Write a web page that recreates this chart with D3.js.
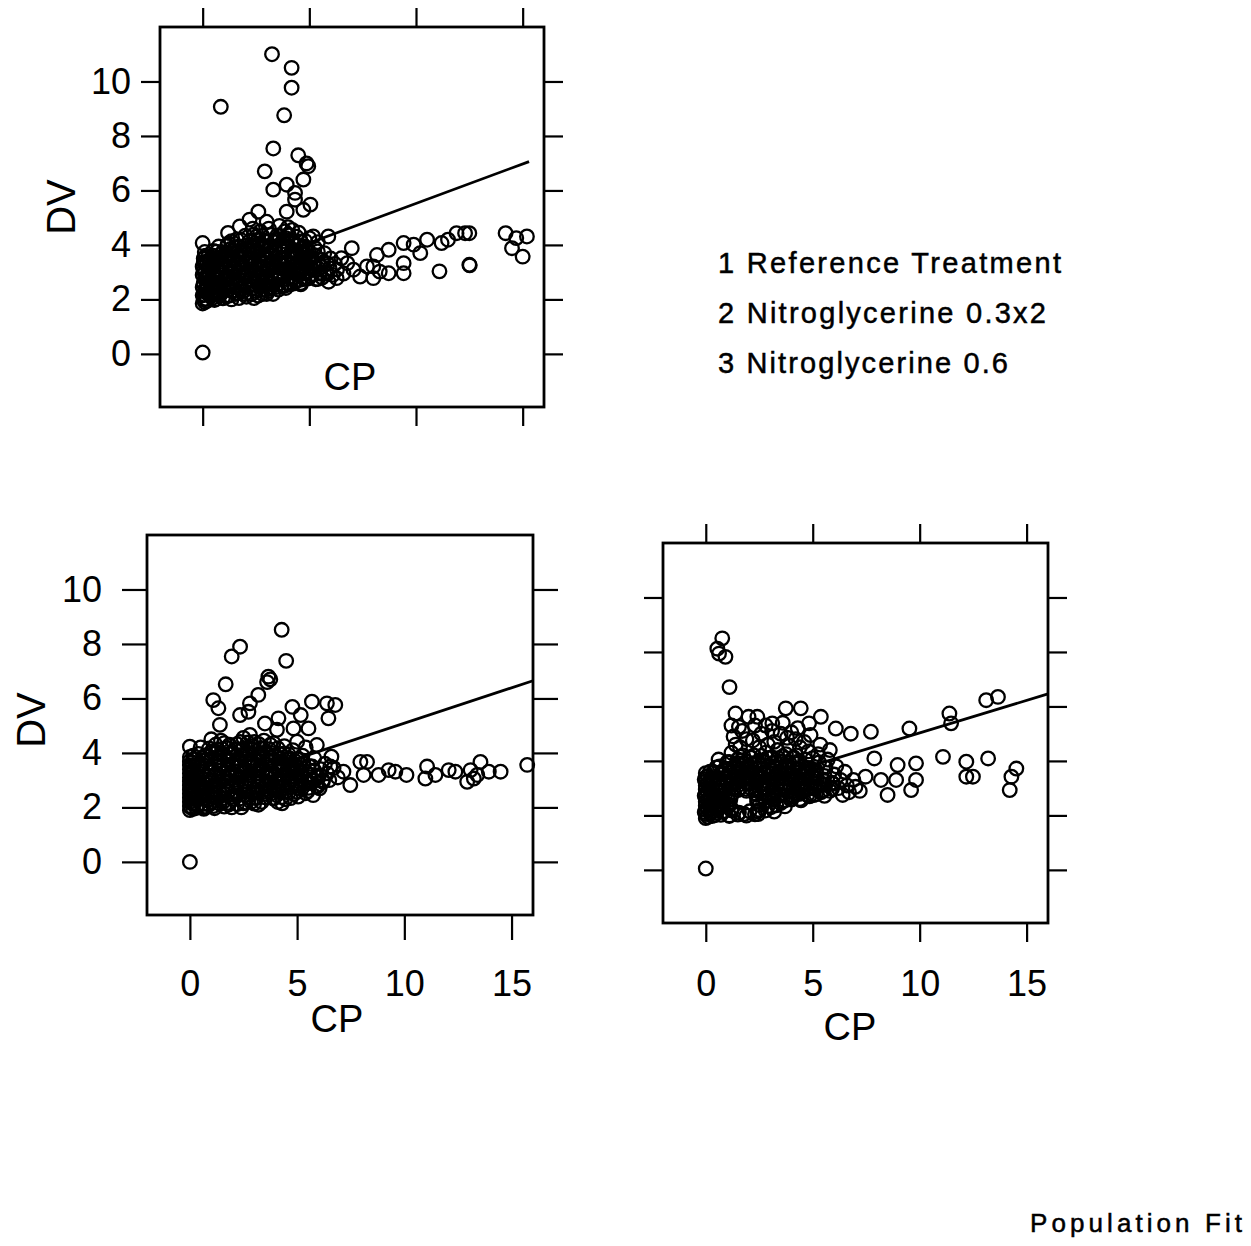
<!DOCTYPE html>
<html>
<head>
<meta charset="utf-8">
<script src="https://cdn.jsdelivr.net/npm/d3@7"></script>
<style>
  html, body { margin: 0; padding: 0; background: #fff; }
  svg { display: block; font-family: "Liberation Sans", Arial, Helvetica, sans-serif; }
</style>
</head>
<body>
<svg id="chart" width="1251" height="1246"></svg>
<script>
const xTicks = [0, 5, 10, 15];
const yTicks = [0, 2, 4, 6, 8, 10];
const xDomain = [-2, 16];
const yDomain = [-1.95, 12];
const treatments = ["1 Reference Treatment", "2 Nitroglycerine 0.3x2", "3 Nitroglycerine 0.6"];
const footer = "Population Fit";

// panel 1: reference treatment, [CP, DV]
const refPoints = [
  [0,1.85],[0.05,2.0],[0,2.15],[0.1,2.3],[0,2.45],[0.05,2.6],[0.1,2.75],[0,2.9],[0.05,3.05],[0,3.2],[0.1,3.35],[0.05,3.5],
  [0.2,1.95],[0.25,2.2],[0.2,2.5],[0.3,2.65],[0.2,2.85],[0.25,3.0],[0.3,3.15],[0.2,3.3],[0.15,2.4],[0.15,3.6],
  [0.45,2.05],[0.5,2.3],[0.6,2.5],[0.4,2.7],[0.55,2.9],[0.7,3.1],[0.45,3.25],[0.65,3.4],[0.8,2.15],[0.9,2.6],[0.85,2.8],
  [0.75,3.0],[0.95,3.3],[0.8,3.55],[1.0,2.4],[0.6,2.0],[0.9,3.7],
  [1.1,2.1],[1.2,2.35],[1.3,2.6],[1.15,2.85],[1.4,3.0],[1.25,3.2],[1.45,3.45],[1.35,3.7],[1.55,2.2],[1.6,2.5],[1.7,2.75],
  [1.65,3.0],[1.8,3.3],[1.75,3.55],[1.9,3.8],[1.85,2.4],[1.95,2.95],[1.5,3.9],[1.2,4.05],[1.6,4.2],[2.0,2.2],
  [2.1,2.45],[2.2,2.7],[2.05,3.0],[2.3,3.25],[2.15,3.5],[2.4,3.75],[2.25,4.0],[2.5,2.3],[2.55,2.6],[2.6,2.9],[2.7,3.15],
  [2.65,3.4],[2.8,3.65],[2.75,3.9],[2.9,4.15],[2.85,2.5],[2.95,2.8],[2.5,4.3],[2.35,4.6],[2.7,4.5],[3.0,3.05],
  [3.05,2.3],[3.1,2.6],[3.2,2.85],[3.15,3.1],[3.3,3.35],[3.25,3.6],[3.4,3.85],[3.35,4.1],[3.5,4.35],[3.45,2.45],[3.55,2.75],
  [3.6,3.0],[3.7,3.25],[3.65,3.5],[3.8,3.75],[3.75,4.0],[3.9,4.25],[3.85,4.5],[3.95,2.6],[3.1,4.6],[3.6,4.7],[3.3,2.2],[3.0,4.85],
  [4.05,2.8],[4.1,3.05],[4.2,3.3],[4.15,3.55],[4.3,3.8],[4.25,4.05],[4.4,4.3],[4.35,2.65],[4.5,2.9],[4.55,3.15],[4.6,3.4],
  [4.65,3.65],[4.7,3.9],[4.8,4.15],[4.75,2.75],[4.9,3.0],[4.85,3.3],[4.95,3.55],[4.2,4.55],[4.5,4.45],[4.0,4.65],[4.9,3.85],
  [5.05,2.85],[5.1,3.1],[5.2,3.35],[5.3,3.6],[5.25,3.9],[5.4,4.1],[5.5,2.95],[5.55,3.2],[5.6,3.45],[5.7,3.7],[5.8,3.0],
  [5.85,3.3],[6.0,3.5],[5.95,3.15],[6.1,2.9],[5.4,2.75],[5.0,4.25],[6.2,3.3],[5.6,2.8],[6.3,3.1],[6.6,2.95],[5.9,2.65],
  [0.1,1.9],[0.35,2.35],[0.7,2.25],[1.05,2.7],[1.4,2.3],[1.7,2.05],[2.0,2.6],[2.4,2.05],[2.8,2.2],[3.2,2.45],[3.7,2.5],
  [4.1,2.55],[4.6,2.6],[1.1,3.5],[1.5,3.2],[2.0,3.4],[2.45,3.3],[2.9,3.5],[3.35,3.2],[3.8,3.1],[4.3,3.2],[4.7,3.3],[5.1,3.5],
  [0.5,3.6],[1.3,3.85],[2.1,3.85],[2.6,4.05],[3.15,3.95],[3.6,4.2],[4.05,4.35],[0.3,3.45],[0.65,3.75],
  [0.15,2.02],[0.55,1.98],[0.95,2.04],[1.35,2.0],
  [0.05,2.18],[0.4,2.12],[0.85,2.2],[1.25,2.14],[1.65,2.22],[2.05,2.1],[2.3,2.2],[2.6,2.14],[3.0,2.2],
  [0.2,2.36],[0.6,2.32],[1.0,2.38],[1.45,2.34],[1.9,2.3],[2.3,2.38],[2.75,2.34],[3.15,2.4],[3.55,2.36],[3.9,2.42],
  [0.05,2.56],[0.45,2.52],[0.8,2.58],[1.2,2.54],[1.55,2.6],[1.95,2.52],[2.35,2.57],[2.7,2.53],[3.1,2.58],[3.5,2.55],
  [3.85,2.5],[4.25,2.58],[4.6,2.55],
  [0.25,2.76],[0.65,2.72],[1.05,2.78],[1.45,2.74],[1.85,2.79],[2.25,2.73],[2.6,2.77],[3.0,2.72],[3.4,2.78],[3.8,2.74],
  [4.2,2.78],[4.55,2.72],[4.95,2.77],[5.3,2.74],
  [0.1,2.96],[0.5,2.92],[0.9,2.98],[1.3,2.93],[1.7,2.97],[2.1,2.92],[2.45,2.98],[2.85,2.94],[3.25,2.97],[3.65,2.92],
  [4.05,2.98],[4.4,2.94],[4.75,2.97],[5.15,2.93],[5.5,2.98],[5.85,2.94],
  [0.3,3.16],[0.7,3.12],[1.1,3.18],[1.5,3.13],[1.9,3.17],[2.3,3.12],[2.7,3.18],[3.1,3.14],[3.5,3.17],[3.9,3.12],
  [4.3,3.18],[4.7,3.14],[5.05,3.17],[5.45,3.12],
  [0.05,3.36],[0.45,3.32],[0.85,3.38],[1.25,3.33],[1.65,3.37],[2.05,3.32],[2.45,3.38],[2.85,3.34],[3.2,3.37],[3.6,3.32],
  [4.0,3.38],[4.4,3.34],[4.8,3.37],[5.25,3.32],[5.65,3.36],
  [0.25,3.56],[0.65,3.52],[1.05,3.58],[1.45,3.53],[1.85,3.57],[2.25,3.52],[2.65,3.58],[3.05,3.54],[3.45,3.57],[3.85,3.52],
  [4.25,3.58],[4.65,3.54],[5.0,3.57],
  [0.1,3.74],[0.5,3.78],[0.95,3.73],[1.4,3.77],[1.8,3.72],[2.2,3.78],[2.6,3.74],[3.0,3.77],[3.4,3.72],[3.8,3.78],
  [4.2,3.74],[4.55,3.77],[5.0,3.73],[5.4,3.76],
  [0.75,3.94],[1.15,3.98],[1.6,3.93],[2.0,3.97],[2.4,3.92],[2.8,3.98],[3.2,3.94],[3.6,3.97],[4.0,3.92],[4.4,3.98],[4.8,3.94],
  [1.35,4.14],[1.8,4.18],[2.2,4.13],[2.6,4.17],[3.0,4.12],[3.4,4.18],[3.8,4.14],[4.2,4.17],[4.6,4.13],
  [2.0,4.34],[2.4,4.38],[2.8,4.33],[3.2,4.37],[3.6,4.32],[4.0,4.38],
  [3.25,11.0],[4.17,10.5],[4.17,9.77],[0.85,9.07],[3.82,8.76],[3.31,7.54],[4.48,7.29],[4.87,6.99],[4.95,6.89],[2.91,6.7],
  [4.72,6.4],[3.31,6.03],[3.94,6.21],[4.33,5.91],[4.33,5.66],[5.05,5.48],[4.72,5.29],[3.94,5.22],[2.61,5.22],[2.2,4.93],
  [1.74,4.68],[1.19,4.44],[0,4.07],[0,0.05],
  [5.89,4.31],[5.18,4.31],[6.99,3.88],[6.5,3.51],[8.17,3.63],[8.72,3.82],[9.42,4.07],[9.89,4.01],[10.52,4.19],[10.2,3.7],
  [11.2,4.07],[11.5,4.19],[11.9,4.43],[12.3,4.43],[12.5,4.43],[14.2,4.43],[15.2,4.31],[14.7,4.25],[14.5,3.88],[15.0,3.57],
  [11.1,3.03],[12.5,3.27],[12.52,3.25],[9.42,3.33],[9.42,2.96],[8.72,2.96],[8.0,2.78],[7.7,3.21],[7.07,3.09],[6.28,2.78],
  [7.38,2.84],[8.3,3.02],[8.0,3.21],[6.78,3.33]
];

// panel 2: nitroglycerine 0.3x2
const ntg03Points = [
  [0,1.9],[0,2.05],[0,2.2],[0,2.35],[0,2.5],[0,2.65],[0,2.8],[0,2.95],[0,3.1],[0,3.25],[0,3.4],[0,3.55],[0,3.7],[0,3.85],
  [0.05,2.0],[0.05,2.3],[0.05,2.6],[0.05,2.9],[0.05,3.2],[0.05,3.5],[0.1,2.15],[0.1,2.45],[0.1,2.75],[0.1,3.05],[0.1,3.35],
  [0.1,3.65],[0.15,1.95],[0.15,3.9],
  [0.35,2.1],[0.4,2.4],[0.5,2.7],[0.45,3.0],[0.6,3.3],[0.55,3.6],[0.7,3.9],[0.65,1.95],[0.8,2.25],[0.85,2.55],[0.75,2.85],
  [0.9,3.15],[0.95,3.45],[0.8,3.75],[1.0,4.05],[0.5,4.2],[0.3,3.2],[0.6,2.0],
  [1.1,2.05],[1.2,2.35],[1.15,2.65],[1.3,2.95],[1.25,3.25],[1.4,3.55],[1.35,3.85],[1.5,4.15],[1.55,2.2],[1.6,2.5],[1.7,2.8],
  [1.65,3.1],[1.8,3.4],[1.75,3.7],[1.9,4.0],[1.85,4.3],[1.95,2.0],[1.45,4.45],[1.2,4.3],[1.0,4.5],
  [2.05,2.3],[2.1,2.6],[2.2,2.9],[2.15,3.2],[2.3,3.5],[2.25,3.8],[2.4,4.1],[2.35,4.4],[2.5,2.15],[2.55,2.45],[2.6,2.75],
  [2.7,3.05],[2.65,3.35],[2.8,3.65],[2.75,3.95],[2.9,4.25],[2.85,2.2],[2.95,2.55],[2.5,4.55],[3.0,4.4],
  [3.05,2.35],[3.1,2.65],[3.2,2.95],[3.15,3.25],[3.3,3.55],[3.25,3.85],[3.4,4.15],[3.35,2.2],[3.5,2.5],[3.55,2.8],[3.6,3.1],
  [3.7,3.4],[3.65,3.7],[3.8,4.0],[3.75,4.3],[3.9,2.35],[3.95,2.65],[3.45,4.45],[3.85,3.25],
  [4.05,2.45],[4.1,2.75],[4.2,3.05],[4.15,3.35],[4.3,3.65],[4.25,3.95],[4.4,4.25],[4.45,2.3],[4.5,2.6],[4.6,2.9],[4.55,3.2],
  [4.7,3.5],[4.65,3.8],[4.8,4.1],[4.85,2.5],[4.9,2.8],[4.95,3.1],[4.75,3.4],[4.9,3.7],[4.3,2.15],
  [5.05,2.4],[5.1,2.7],[5.2,3.0],[5.15,3.3],[5.3,3.6],[5.25,3.9],[5.4,4.2],[5.5,2.6],[5.55,2.9],[5.6,3.2],[5.7,3.5],[5.8,3.8],
  [5.9,2.8],[6.0,3.1],[6.1,3.4],[6.2,3.0],[6.3,3.6],[6.4,3.25],[5.75,2.45],[6.05,2.7],[6.5,3.0],[6.7,3.45],[6.9,3.1],
  [0.25,2.3],[0.7,2.6],[1.05,3.0],[1.4,2.4],[1.8,2.1],[2.2,2.45],[2.6,3.95],[3.0,3.0],[3.4,3.3],[3.8,2.9],[4.2,3.6],[4.6,3.95],
  [5.0,3.5],[1.6,3.9],[2.0,3.6],[2.45,3.3],[2.9,3.7],[3.3,4.0],[3.7,2.6],[4.1,2.2],[0.9,2.1],[1.3,3.7],[2.4,2.0],[3.2,2.1],
  [0.3,1.98],[0.75,2.02],[1.15,1.97],[1.6,2.03],
  [0.2,2.16],[0.6,2.12],[1.0,2.18],[1.4,2.13],[1.8,2.17],[2.2,2.12],[2.6,2.18],[3.0,2.14],
  [0.3,2.36],[0.7,2.32],[1.1,2.38],[1.5,2.33],[1.9,2.37],[2.3,2.32],[2.7,2.38],[3.1,2.34],[3.5,2.37],[3.9,2.32],[4.3,2.38],[4.7,2.34],
  [0.2,2.56],[0.6,2.52],[1.0,2.58],[1.4,2.53],[1.8,2.57],[2.2,2.52],[2.6,2.58],[3.0,2.54],[3.4,2.57],[3.8,2.52],[4.2,2.58],
  [4.6,2.54],[5.0,2.57],[5.4,2.52],
  [0.35,2.76],[0.75,2.72],[1.15,2.78],[1.55,2.73],[1.95,2.77],[2.35,2.72],[2.75,2.78],[3.15,2.74],[3.55,2.77],[3.95,2.72],
  [4.35,2.78],[4.75,2.74],[5.15,2.77],[5.55,2.72],[5.95,2.76],
  [0.2,2.96],[0.6,2.92],[1.0,2.98],[1.4,2.93],[1.8,2.97],[2.2,2.92],[2.6,2.98],[3.0,2.94],[3.4,2.97],[3.8,2.92],[4.2,2.98],
  [4.6,2.94],[5.0,2.97],[5.4,2.92],[5.8,2.98],[6.2,2.94],
  [0.35,3.16],[0.75,3.12],[1.15,3.18],[1.55,3.13],[1.95,3.17],[2.35,3.12],[2.75,3.18],[3.15,3.14],[3.55,3.17],[3.95,3.12],
  [4.35,3.18],[4.75,3.14],[5.15,3.17],[5.55,3.12],[5.95,3.16],
  [0.2,3.36],[0.6,3.32],[1.0,3.38],[1.4,3.33],[1.8,3.37],[2.2,3.32],[2.6,3.38],[3.0,3.34],[3.4,3.37],[3.8,3.32],[4.2,3.38],
  [4.6,3.34],[5.0,3.37],[5.4,3.32],[5.8,3.36],
  [0.35,3.56],[0.75,3.52],[1.15,3.58],[1.55,3.53],[1.95,3.57],[2.35,3.52],[2.75,3.58],[3.15,3.54],[3.55,3.57],[3.95,3.52],
  [4.35,3.58],[4.75,3.54],[5.15,3.57],[5.55,3.52],
  [0.2,3.76],[0.6,3.72],[1.0,3.78],[1.4,3.73],[1.8,3.77],[2.2,3.72],[2.6,3.78],[3.0,3.74],[3.4,3.77],[3.8,3.72],[4.2,3.78],
  [4.6,3.74],[5.0,3.77],
  [0.4,3.96],[0.8,3.92],[1.2,3.98],[1.6,3.93],[2.0,3.97],[2.4,3.92],[2.8,3.98],[3.2,3.94],[3.6,3.97],[4.0,3.92],[4.4,3.98],
  [0.9,4.16],[1.3,4.12],[1.7,4.18],[2.1,4.13],[2.5,4.17],[2.9,4.12],[3.3,4.18],[3.7,4.14],[4.1,4.17],
  [1.6,4.36],[2.2,4.32],[2.7,4.38],[3.2,4.33],[3.9,4.36],
  [4.28,8.52],[2.34,7.9],[1.95,7.54],[4.49,7.38],[3.66,6.8],[3.75,6.7],[3.6,6.6],[1.67,6.52],[3.19,6.13],[1.09,5.94],
  [1.33,5.64],[2.8,5.82],[5.69,5.88],[6.39,5.82],[6.78,5.76],[4.78,5.69],[5.17,5.39],[6.46,5.27],[2.34,5.39],[2.73,5.51],
  [4.13,5.27],[4.83,4.9],[5.53,4.9],[1.4,5.03],[3.5,5.08],[2.8,4.66],[4.06,4.85],[5.0,4.41],[5.92,4.29],[0,4.23],[0,0.0],
  [6.6,3.86],[6.55,3.5],[7.16,3.31],[7.48,2.82],[7.95,3.67],[8.26,3.67],[8.1,3.19],[8.8,3.19],[9.27,3.37],[9.58,3.31],
  [10.1,3.19],[11.06,3.5],[10.98,3.06],[11.45,3.19],[12.07,3.37],[12.38,3.31],[12.93,2.94],[13.09,3.37],[13.55,3.67],
  [13.4,3.19],[13.94,3.31],[14.49,3.31],[15.73,3.56],[13.24,3.06]
];

// panel 3: nitroglycerine 0.6
const ntg06Points = [
  [0,1.9],[0,2.05],[0,2.2],[0,2.35],[0,2.5],[0,2.65],[0,2.8],[0,2.95],[0,3.1],[0,3.25],[0,3.4],[0,3.55],
  [0.1,1.95],[0.1,2.25],[0.1,2.55],[0.1,2.85],[0.1,3.15],[0.1,3.45],[0.2,2.1],[0.2,2.4],[0.2,2.7],[0.2,3.0],[0.2,3.3],
  [0.2,3.6],[-0.05,2.12],[-0.05,2.72],[-0.05,3.32],
  [0.4,2.0],[0.5,2.3],[0.45,2.6],[0.6,2.9],[0.55,3.2],[0.7,3.5],[0.65,3.8],[0.8,2.15],[0.85,2.45],[0.9,2.75],[0.75,3.05],
  [0.95,3.35],[0.9,3.65],[1.0,3.95],[0.6,4.05],[0.35,3.3],
  [1.1,2.0],[1.2,2.25],[1.05,2.55],[1.3,2.85],[1.25,3.15],[1.4,3.45],[1.35,3.75],[1.5,4.05],[1.6,3.0],[1.7,3.3],[1.65,3.6],
  [1.8,3.9],[1.75,4.2],[1.9,2.9],[1.95,3.2],[1.55,2.1],[1.8,2.05],[1.2,4.3],[1.4,4.6],[1.3,4.9],[1.6,4.5],[1.9,4.8],
  [1.2,5.3],[1.7,5.1],
  [2.05,2.15],[2.1,3.0],[2.2,3.3],[2.15,3.6],[2.3,3.9],[2.25,4.2],[2.4,2.5],[2.35,2.8],[2.5,2.2],[2.55,3.1],[2.6,3.4],
  [2.7,3.7],[2.65,4.0],[2.8,4.3],[2.75,2.65],[2.9,2.95],[2.85,3.25],[2.95,3.55],[2.5,4.5],[2.2,4.75],[2.6,5.0],[2.3,5.3],
  [2.9,4.6],[2.8,5.3],[2.45,2.05],
  [3.05,2.3],[3.1,2.6],[3.2,2.9],[3.15,3.2],[3.3,3.5],[3.25,3.8],[3.4,4.1],[3.35,4.4],[3.5,2.45],[3.55,2.75],[3.6,3.05],
  [3.7,3.35],[3.65,3.65],[3.8,3.95],[3.75,4.25],[3.9,4.55],[3.95,2.6],[3.2,4.7],[3.5,5.0],[3.8,4.85],[3.1,5.1],[3.6,5.4],
  [4.05,2.7],[4.1,3.0],[4.2,3.3],[4.15,3.6],[4.3,3.9],[4.25,4.2],[4.4,4.5],[4.45,2.55],[4.5,2.85],[4.6,3.15],[4.55,3.45],
  [4.7,3.75],[4.65,4.05],[4.8,4.35],[4.85,2.7],[4.9,3.0],[4.95,3.3],[4.8,3.6],[4.2,4.8],[4.6,4.7],[4.9,4.95],[4.3,5.2],[4.0,5.05],
  [5.05,2.75],[5.1,3.05],[5.2,3.35],[5.15,3.65],[5.3,3.95],[5.25,4.25],[5.4,2.85],[5.5,3.15],[5.55,3.45],[5.6,3.75],[5.7,4.05],
  [5.8,2.9],[5.9,3.2],[6.0,3.5],[6.1,3.8],[6.2,3.0],[6.3,3.3],[6.4,2.75],[6.5,3.6],[6.6,3.1],[5.35,4.6],[5.8,4.4],[6.7,2.85],
  [6.9,3.3],[7.2,2.9],
  [0.3,2.8],[0.7,2.35],[1.0,3.2],[1.45,3.2],[1.85,3.45],[2.4,3.45],[2.8,3.0],[3.3,3.0],[3.7,2.55],[4.2,2.8],[4.6,3.6],
  [5.0,4.1],[1.0,2.4],[1.15,3.6],[1.55,3.85],[2.0,3.7],[2.45,3.95],[3.0,4.1],[3.45,3.6],[3.9,3.15],[4.4,3.7],[5.0,3.45],
  [0.3,1.98],[0.7,2.02],[1.1,1.98],[1.5,2.03],[1.9,1.99],[2.3,2.04],
  [0.4,2.16],[0.8,2.12],[1.2,2.18],[2.4,2.15],[2.8,2.18],[3.2,2.14],
  [0.3,2.36],[0.7,2.32],[1.1,2.38],[2.5,2.38],[2.9,2.34],[3.3,2.37],[3.7,2.33],
  [0.4,2.56],[0.8,2.52],[1.15,2.58],[2.4,2.62],[2.8,2.54],[3.2,2.57],[3.6,2.52],[4.0,2.58],[4.4,2.6],
  [0.35,2.76],[0.75,2.72],[1.2,2.76],[2.35,2.76],[2.75,2.78],[3.15,2.74],[3.55,2.77],[3.95,2.72],[4.35,2.78],[4.75,2.74],
  [5.15,2.77],[5.55,2.72],
  [0.3,2.96],[0.7,2.92],[1.1,2.98],[1.5,2.93],[1.9,2.97],[2.3,2.92],[2.7,2.98],[3.1,2.94],[3.5,2.97],[3.9,2.92],[4.3,2.98],
  [4.7,2.94],[5.1,2.97],[5.5,2.92],[5.9,2.98],
  [0.35,3.16],[0.75,3.12],[1.15,3.18],[1.55,3.13],[1.95,3.17],[2.35,3.12],[2.75,3.18],[3.15,3.14],[3.55,3.17],[3.95,3.12],
  [4.35,3.18],[4.75,3.14],[5.15,3.17],[5.55,3.12],[5.95,3.16],
  [0.3,3.36],[0.7,3.32],[1.1,3.38],[1.5,3.33],[1.9,3.37],[2.3,3.32],[2.7,3.38],[3.1,3.34],[3.5,3.37],[3.9,3.32],[4.3,3.38],
  [4.7,3.34],[5.1,3.37],[5.5,3.32],
  [0.35,3.56],[0.75,3.52],[1.15,3.58],[1.55,3.53],[1.95,3.57],[2.35,3.52],[2.75,3.58],[3.15,3.54],[3.55,3.57],[3.95,3.52],
  [4.35,3.58],[4.75,3.54],[5.15,3.57],
  [0.5,3.76],[0.9,3.72],[1.3,3.78],[1.7,3.73],[2.1,3.77],[2.5,3.72],[2.9,3.78],[3.3,3.74],[3.7,3.77],[4.1,3.72],[4.5,3.78],[4.9,3.74],
  [1.1,3.96],[1.5,3.92],[1.9,3.98],[2.3,3.93],[2.7,3.97],[3.1,3.92],[3.5,3.98],[3.9,3.94],[4.3,3.97],
  [1.6,4.16],[2.1,4.12],[2.6,4.18],[3.1,4.13],[3.6,4.17],[4.1,4.14],
  [0.77,8.5],[0.54,8.12],[0.92,7.82],[0.62,7.94],[1.11,6.71],[1.39,5.74],[2.0,5.62],[2.41,5.62],[3.74,5.93],[4.44,5.93],
  [5.38,5.62],[6.08,5.19],[6.78,5.0],[7.72,5.07],[9.52,5.19],[11.39,5.74],[11.47,5.38],[13.11,6.23],[13.66,6.35],[4.83,5.38],
  [1.55,5.25],[3.11,5.38],[7.88,4.09],[8.97,3.85],[9.83,3.91],[11.09,4.15],[12.18,3.97],[13.2,4.09],[14.52,3.72],[14.29,3.42],
  [14.21,2.93],[12.18,3.42],[12.49,3.42],[9.83,3.3],[9.6,2.93],[8.5,2.75],[8.19,3.3],[8.9,3.3],[7.0,3.05],[7.47,3.42],[0,0.05]
];

// population fit lines, endpoints [CP, DV]
const refFit = [[0, 2.62], [15.3, 7.06]];
const ntg03Fit = [[0, 2.49], [16, 6.65]];
const ntg06Fit = [[0, 2.64], [16, 6.46]];

const svg = d3.select("#chart");

function addAxis(g, axisFn, scale, values, size, padding, labels, transform) {
  const axis = axisFn(scale)
    .tickValues(values)
    .tickSize(size)
    .tickSizeOuter(0)
    .tickPadding(padding);
  if (!labels) axis.tickFormat("");
  const a = g.append("g")
    .attr("transform", transform)
    .call(axis)
    .attr("font-family", null)
    .attr("font-size", 36);
  a.select(".domain").remove();
  a.selectAll("line").attr("stroke", "#000").attr("stroke-width", 2.2);
  a.selectAll("text").attr("fill", "#000");
}

function drawPanel({ left, top, width, height, points, fit, tick, sides, yPad, xPad, cp }) {
  const x = d3.scaleLinear().domain(xDomain).range([0, width]);
  const y = d3.scaleLinear().domain(yDomain).range([height, 0]);

  const g = svg.append("g").attr("transform", `translate(${left},${top})`);

  if (sides.top) addAxis(g, d3.axisTop, x, xTicks, tick, 0, false, "translate(0,0)");
  if (sides.bottom) addAxis(g, d3.axisBottom, x, xTicks, tick, xPad, sides.bottom === "labels", `translate(0,${height})`);
  if (sides.left) addAxis(g, d3.axisLeft, y, yTicks, tick, yPad, sides.left === "labels", "translate(0,0)");
  if (sides.right) addAxis(g, d3.axisRight, y, yTicks, tick, 0, false, `translate(${width},0)`);

  g.append("line")
    .attr("x1", x(fit[0][0])).attr("y1", y(fit[0][1]))
    .attr("x2", x(fit[1][0])).attr("y2", y(fit[1][1]))
    .attr("stroke", "#000")
    .attr("stroke-width", 2.8);

  g.selectAll("circle")
    .data(points)
    .enter()
    .append("circle")
    .attr("cx", d => x(d[0]))
    .attr("cy", d => y(d[1]))
    .attr("r", 6.8)
    .attr("fill", "none")
    .attr("stroke", "#000")
    .attr("stroke-width", 2.3);

  g.append("rect")
    .attr("width", width)
    .attr("height", height)
    .attr("fill", "none")
    .attr("stroke", "#000")
    .attr("stroke-width", 2.8);

  g.append("text")
    .attr("x", cp[0] - left)
    .attr("y", cp[1] - top)
    .attr("text-anchor", "middle")
    .attr("font-size", 38)
    .text("CP");
}

drawPanel({
  left: 160, top: 27, width: 384, height: 380,
  points: refPoints, fit: refFit, tick: 19,
  sides: { top: true, bottom: true, left: "labels", right: true },
  yPad: 10, xPad: 0, cp: [350, 390]
});

drawPanel({
  left: 147, top: 535, width: 386, height: 380,
  points: ntg03Points, fit: ntg03Fit, tick: 25,
  sides: { top: false, bottom: "labels", left: "labels", right: true },
  yPad: 20, xPad: 30, cp: [337, 1032]
});

drawPanel({
  left: 663, top: 543, width: 385, height: 380,
  points: ntg06Points, fit: ntg06Fit, tick: 19,
  sides: { top: true, bottom: "labels", left: true, right: true },
  yPad: 0, xPad: 28, cp: [850, 1040]
});

// y titles
svg.append("text")
  .attr("transform", "translate(75,207) rotate(-90)")
  .attr("text-anchor", "middle")
  .attr("font-size", 40)
  .text("DV");

svg.append("text")
  .attr("transform", "translate(45,720) rotate(-90)")
  .attr("text-anchor", "middle")
  .attr("font-size", 40)
  .text("DV");

// treatment key
const keyWidths = [343, 328, 290];
svg.selectAll(".key")
  .data(treatments)
  .enter()
  .append("text")
  .attr("class", "key")
  .attr("x", 718)
  .attr("y", (d, i) => 273 + i * 50)
  .attr("font-size", 29)
  .attr("textLength", (d, i) => keyWidths[i])
  .attr("lengthAdjust", "spacing")
  .attr("stroke", "#000")
  .attr("stroke-width", 0.5)
  .text(d => d);

svg.append("text")
  .attr("x", 1030)
  .attr("y", 1232)
  .attr("font-size", 26)
  .attr("textLength", 212)
  .attr("lengthAdjust", "spacing")
  .attr("stroke", "#000")
  .attr("stroke-width", 0.5)
  .text(footer);
</script>
</body>
</html>
